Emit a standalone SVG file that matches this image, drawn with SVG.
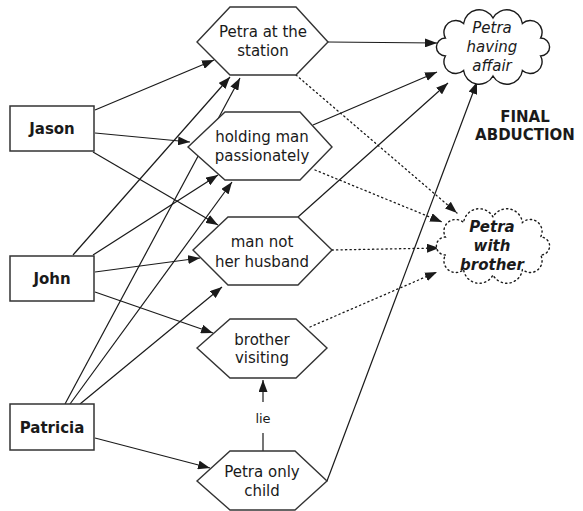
<svg xmlns="http://www.w3.org/2000/svg" width="583" height="511" viewBox="0 0 583 511">
<style>
text{font-family:"DejaVu Sans","Verdana",sans-serif;font-size:15px;fill:#1a1a1a;text-anchor:middle}
.b{font-weight:bold}
.i{font-style:italic}
.box{fill:#fff;stroke:#333;stroke-width:1.5}
.hex{fill:#fff;stroke:#333;stroke-width:1.4}
.cloud{fill:#fff;stroke:#1a1a1a;stroke-width:1.4}
.dcloud{fill:#fff;stroke:#1a1a1a;stroke-width:1.4;stroke-dasharray:1.3 3.2;stroke-linecap:round}
.e{fill:none;stroke:#1a1a1a;stroke-width:1.2;marker-end:url(#ah)}
.d{fill:none;stroke:#1a1a1a;stroke-width:1.3;stroke-dasharray:1.3 3.2;stroke-linecap:round;marker-end:url(#ah)}
.p{fill:none;stroke:#1a1a1a;stroke-width:1.2}
</style>
<defs>
<marker id="ah" viewBox="0 0 12 9" refX="12" refY="4.5" markerWidth="12" markerHeight="9" markerUnits="userSpaceOnUse" orient="auto">
<path d="M0,0 L12,4.5 L0,9 z" fill="#1a1a1a"/>
</marker>
</defs>
<g id="connectors">
<path class="e" d="M95,110 L214,60"/>
<path class="e" d="M95,133 L190,142"/>
<path class="e" d="M93,152 L218,225"/>
<path class="e" d="M73,255 L230,77"/>
<path class="e" d="M93,255 L218,175"/>
<path class="e" d="M95,272 L200,258"/>
<path class="e" d="M95,292 L213,333"/>
<path class="e" d="M65,404 L240,78"/>
<path class="e" d="M70,404 L232,182"/>
<path class="e" d="M80,404 L222,287"/>
<path class="e" d="M95,438 L210,468"/>
<path class="e" d="M328,42 L437,43"/>
<path class="e" d="M313,125 L437,72"/>
<path class="e" d="M298,217 L448,83"/>
<path class="e" d="M327,481 L477,82"/>
<path class="d" d="M296,75 L457,213"/>
<path class="d" d="M315,170 L442,222"/>
<path class="d" d="M332,250 L439,248"/>
<path class="d" d="M310,327 L437,272"/>
<path class="p" d="M263,451 L263,433"/>
<path class="e" d="M263,402 L263,380"/>
<text x="263" y="423" style="font-size:13px">lie</text>
</g>
<g id="jason"><rect class="box" x="10" y="106" width="84" height="45"/><text class="b" x="52" y="134">Jason</text></g>
<g id="john"><rect class="box" x="10" y="256" width="84" height="45"/><text class="b" x="52" y="284">John</text></g>
<g id="patricia"><rect class="box" x="10" y="404" width="84" height="46"/><text class="b" x="52" y="433">Patricia</text></g>
<g id="h1"><polygon class="hex" points="197,42 230,7 296,7 328,42 296,75 230,75"/><text x="263" y="37">Petra at the</text><text x="263" y="56">station</text></g>
<g id="h2"><polygon class="hex" points="188,147 225,112 300,112 332,147 300,180 225,180"/><text x="262" y="142">holding man</text><text x="262" y="161">passionately</text></g>
<g id="h3"><polygon class="hex" points="193,250 228,217 298,217 332,250 298,285 228,285"/><text x="262" y="247">man not</text><text x="262" y="267">her husband</text></g>
<g id="h4"><polygon class="hex" points="197,348 230,319 296,319 327,348 296,378 230,378"/><text x="262" y="345">brother</text><text x="262" y="363">visiting</text></g>
<g id="h5"><polygon class="hex" points="197,481 230,451 295,451 327,481 295,510 230,510"/><text x="262" y="477">Petra only</text><text x="262" y="496">child</text></g>
<g id="c1"><path class="cloud" d="M445.4,56 A1,1 0 0 1 445.4,38 A11.8,11.8 0 0 1 463.6,23.5 A15.7,15.7 0 0 1 493,18 A15.7,15.7 0 0 1 522.4,23.5 A11.8,11.8 0 0 1 540.6,38 A1,1 0 0 1 540.6,56 A11.8,11.8 0 0 1 522.4,70.5 A15.7,15.7 0 0 1 493,76 A15.7,15.7 0 0 1 463.6,70.5 A11.8,11.8 0 0 1 445.4,56 Z"/><text class="i" x="492" y="33">Petra</text><text class="i" x="492" y="52">having</text><text class="i" x="492" y="71">affair</text></g>
<g id="c2"><path class="dcloud" d="M445.4,255 A1,1 0 0 1 445.4,237 A11.8,11.8 0 0 1 463.6,222.5 A15.7,15.7 0 0 1 493,217 A15.7,15.7 0 0 1 522.4,222.5 A11.8,11.8 0 0 1 540.6,237 A1,1 0 0 1 540.6,255 A11.8,11.8 0 0 1 522.4,269.5 A15.7,15.7 0 0 1 493,275 A15.7,15.7 0 0 1 463.6,269.5 A11.8,11.8 0 0 1 445.4,255 Z"/><text class="b i" x="492" y="232">Petra</text><text class="b i" x="492" y="251">with</text><text class="b i" x="492" y="270">brother</text></g>
<g id="final"><text class="b" x="525" y="122">FINAL</text><text class="b" x="525" y="140">ABDUCTION</text></g>
</svg>
